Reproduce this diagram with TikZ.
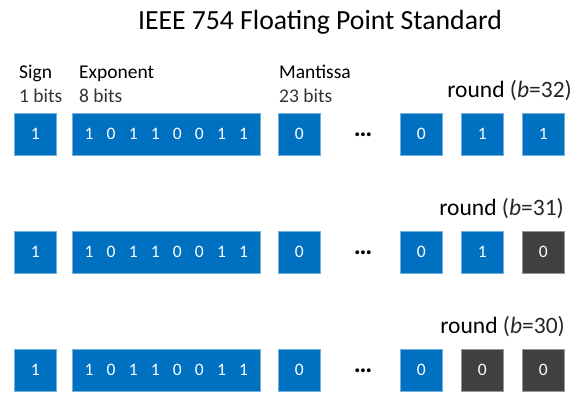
\documentclass[tikz,border=0pt]{standalone}
\usepackage{fontspec}
\setmainfont{Carlito}
\definecolor{bitblue}{RGB}{0,112,192}
\definecolor{bitdark}{RGB}{64,64,64}
\newcommand{\bitgap}{\hspace{13.2pt}}
\tikzset{
  bitbox/.style={draw=#1!55!white, line width=0.6pt, fill=#1, text=white,
    anchor=north west, minimum height=42pt, minimum width=42pt, inner sep=0pt,
    font=\fontsize{17.5}{20}\selectfont},
  bitbox/.default=bitblue,
  fieldlabel/.style={anchor=base west, inner sep=0pt, font=\fontsize{19.5}{22}\selectfont},
  roundlabel/.style={anchor=base east, inner sep=0pt, font=\fontsize{23.5}{26}\selectfont}
}
\begin{document}
\begin{tikzpicture}[x=1pt, y=-1pt]
  \useasboundingbox (0,0) rectangle (581,400);

  %% --- title ---
  \node[anchor=base, inner sep=0pt, font=\fontsize{27.7}{32}\selectfont] (title) at (320,29)
    {IEEE 754 Floating Point Standard};

  %% --- field names and widths ---
  \node[fieldlabel] (signname) at (19,78) {Sign};
  \node[fieldlabel, black!80] (signwidth) at (19,102) {1 bits};
  \node[fieldlabel] (expname) at (79,78) {Exponent};
  \node[fieldlabel, black!80] (expwidth) at (79,102) {8 bits};
  \node[fieldlabel] (mantname) at (279,78) {Mantissa};
  \node[fieldlabel, black!80] (mantwidth) at (279,102) {23 bits};

  %% --- three rows: b = 32, 31, 30 ---
  \foreach \r/\y/\right/\bval/\cval/\bcol/\ccol/\bw in
      {1/113/572/1/1/bitblue/bitblue/32,
       2/231/564/1/0/bitblue/bitdark/31,
       3/349/565/0/0/bitdark/bitdark/30} {
    \node[roundlabel] (round\r) at (\right,\y-16)
      {round {\color{black!85}(\textit{b}=\bw)}};
    \node[bitbox] (sign\r) at (14,\y) {1};
    \node[bitbox, minimum width=188pt] (exp\r) at (72,\y)
      {1\bitgap 0\bitgap 1\bitgap 1\bitgap 0\bitgap 0\bitgap 1\bitgap 1};
    \node[bitbox] (mant\r) at (278,\y) {0};
    \node[inner sep=0pt, font=\fontsize{26}{28}\selectfont\bfseries] (dots\r) at (363,\y+22) {…};
    \node[bitbox] (last\r) at (400,\y) {0};
    \node[bitbox=\bcol] (penult\r) at (461,\y) {\bval};
    \node[bitbox=\ccol] (final\r) at (522,\y) {\cval};
  }
\end{tikzpicture}
\end{document}
